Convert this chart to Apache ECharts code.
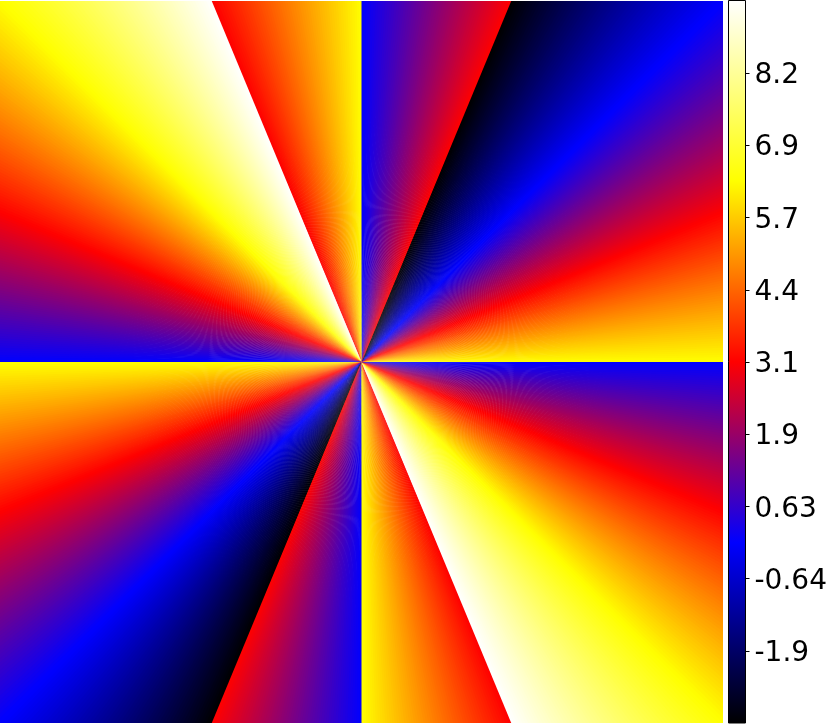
<!DOCTYPE html>
<html>
<head>
<meta charset="utf-8">
<style>html,body{margin:0;padding:0;background:#fff}#c{width:827px;height:724px}</style>
<script src="https://cdn.jsdelivr.net/npm/echarts@6/dist/echarts.min.js"></script>
</head>
<body>
<div id="c"></div>
<script>
// Phase values per 0.375 degree sector. The picture is made of
// repeated colour ramps, so each ramp is listed once and the wedges name the ramps they use.
const sectorStepDeg = 0.375;
const rampWhiteToYellow = [
 9.399,9.346,9.294,9.242,9.189,9.137,9.084,9.032,8.980,8.927,
 8.875,8.823,8.770,8.718,8.666,8.613,8.561,8.508,8.456,8.404,
 8.351,8.299,8.247,8.194,8.142,8.090,8.037,7.985,7.933,7.880,
 7.828,7.775,7.723,7.671,7.618,7.566,7.514,7.461,7.409,7.357,
 7.304,7.252,7.199,7.147,7.095,7.042,6.990,6.938,6.885,6.833,
 6.781,6.728,6.676,6.624,6.571,6.519,6.466,6.414,6.362,6.309
];
const rampYellowToRed = [
 6.257,6.205,6.152,6.100,6.048,5.995,5.943,5.890,5.838,5.786,
 5.733,5.681,5.629,5.576,5.524,5.472,5.419,5.367,5.314,5.262,
 5.210,5.157,5.105,5.053,5.000,4.948,4.896,4.843,4.791,4.738,
 4.686,4.634,4.581,4.529,4.477,4.424,4.372,4.320,4.267,4.215,
 4.163,4.110,4.058,4.005,3.953,3.901,3.848,3.796,3.744,3.691,
 3.639,3.587,3.534,3.482,3.429,3.377,3.325,3.272,3.220,3.168
];
const rampRedToBlue = [
 3.115,3.063,3.011,2.958,2.906,2.854,2.801,2.749,2.697,2.644,
 2.592,2.539,2.487,2.435,2.382,2.330,2.278,2.225,2.173,2.121,
 2.068,2.016,1.963,1.911,1.859,1.806,1.754,1.702,1.649,1.597,
 1.545,1.492,1.440,1.388,1.335,1.283,1.230,1.178,1.126,1.073,
 1.021,0.969,0.916,0.864,0.812,0.759,0.707,0.654,0.602,0.550,
 0.497,0.445,0.393,0.340,0.288,0.236,0.183,0.131,0.079,0.026
];
const rampBlueToBlack = [
 -0.026,-0.079,-0.131,-0.183,-0.236,-0.288,-0.340,-0.393,-0.445,-0.497,
 -0.550,-0.602,-0.654,-0.707,-0.759,-0.812,-0.864,-0.916,-0.969,-1.021,
 -1.073,-1.126,-1.178,-1.230,-1.283,-1.335,-1.388,-1.440,-1.492,-1.545,
 -1.597,-1.649,-1.702,-1.754,-1.806,-1.859,-1.911,-1.963,-2.016,-2.068,
 -2.121,-2.173,-2.225,-2.278,-2.330,-2.382,-2.435,-2.487,-2.539,-2.592,
 -2.644,-2.697,-2.749,-2.801,-2.854,-2.906,-2.958,-3.011,-3.063,-3.115
];
// Counter-clockwise from the +x axis over the upper half plane (the lower half repeats it):
const wedge0to67 = [...rampYellowToRed, ...rampRedToBlue, ...rampBlueToBlack];
const wedge67to90 = rampRedToBlue;
const wedge90to112 = rampYellowToRed;
const wedge112to180 = [...rampWhiteToYellow, ...rampYellowToRed, ...rampRedToBlue];
const sectorValues = [...wedge0to67, ...wedge67to90, ...wedge90to112, ...wedge112to180];

const colorStops = ['#000000','#0000ff','#ff0000','#ffff00','#ffffff'];
const scaleMin = -3.1416;
const scaleMax = 9.4248;
const tickValues = [-1.885,-0.628,0.628,1.885,3.142,4.398,5.655,6.912,8.168];
const tickLabels = ['-1.9','-0.64','0.63','1.9','3.1','4.4','5.7','6.9','8.2'];

const sectors = [];
[0, 180].forEach(function (offset) {
  sectorValues.forEach(function (v, i) {
    sectors.push([offset + i * sectorStepDeg, offset + (i + 1) * sectorStepDeg, v]);
  });
});

const REACH = 1.6;
const UNDERLAP_DEG = 0.2; // each sector runs under the next one, so no seams show between them
function renderSector(params, api) {
  const isLast = params.dataIndex === sectors.length - 1;
  const a0 = api.value(0) * Math.PI / 180;
  const a1 = (api.value(1) + (isLast ? 0 : UNDERLAP_DEG)) * Math.PI / 180;
  return {
    type: 'polygon',
    shape: { points: [
      api.coord([0, 0]),
      api.coord([REACH * Math.cos(a0), REACH * Math.sin(a0)]),
      api.coord([REACH * Math.cos(a1), REACH * Math.sin(a1)])
    ] },
    style: { fill: api.visual('color'), stroke: null }
  };
}
function renderColorbar(params, api) {
  const p0 = api.coord([0, scaleMax]), p1 = api.coord([1, scaleMin]);
  const stops = colorStops.map(function (c, i) {
    return { offset: 1 - i / (colorStops.length - 1), color: c };
  });
  return {
    type: 'rect',
    shape: { x: p0[0], y: p0[1], width: p1[0] - p0[0], height: p1[1] - p0[1] },
    style: {
      fill: new echarts.graphic.LinearGradient(0, 0, 0, 1, stops),
      stroke: '#000', lineWidth: 1
    }
  };
}
function renderTick(params, api) {
  const p = api.coord([1, api.value(1)]);
  const y = Math.round(p[1]) + 0.5;
  return {
    type: 'line',
    shape: { x1: p[0], y1: y, x2: p[0] + 4, y2: y },
    style: { stroke: '#000', lineWidth: 1 }
  };
}

const chart = echarts.init(document.getElementById('c'), null, { renderer: 'canvas' });
chart.setOption({
  animation: false,
  backgroundColor: '#fff',
  tooltip: { show: false },
  grid: [
    { left: 0, top: 1, width: 723, height: 722, show: false, outerBoundsMode: 'none' },
    { left: 728.5, top: 0.5, width: 17, height: 722.5, show: false, outerBoundsMode: 'none' }
  ],
  xAxis: [
    { gridIndex: 0, type: 'value', min: -1, max: 1, show: false },
    { gridIndex: 1, type: 'value', min: 0, max: 1, show: false }
  ],
  yAxis: [
    { gridIndex: 0, type: 'value', min: -1, max: 1, show: false },
    {
      gridIndex: 1, type: 'value', min: scaleMin, max: scaleMax, position: 'right',
      splitLine: { show: false },
      axisLine: { show: false },
      axisTick: { show: false },
      axisLabel: {
        show: true, margin: 9, customValues: tickValues,
        fontFamily: 'DejaVu Sans', fontSize: 28, color: '#000',
        formatter: function (v) {
          let best = 0;
          tickValues.forEach(function (t, i) { if (Math.abs(t - v) < Math.abs(tickValues[best] - v)) best = i; });
          return '{t|' + tickLabels[best] + '}';
        },
        rich: { t: { fontFamily: 'DejaVu Sans', fontSize: 28, color: '#000', padding: [6, 0, 0, 0] } }
      }
    }
  ],
  visualMap: {
    show: false, type: 'continuous', seriesIndex: 0, dimension: 2,
    min: scaleMin, max: scaleMax, inRange: { color: colorStops }
  },
  series: [
    { type: 'custom', xAxisIndex: 0, yAxisIndex: 0, coordinateSystem: 'cartesian2d', clip: true,
      silent: true, renderItem: renderSector, data: sectors },
    { type: 'custom', xAxisIndex: 1, yAxisIndex: 1, coordinateSystem: 'cartesian2d', clip: false,
      silent: true, renderItem: renderColorbar, data: [[0, scaleMin]] },
    { type: 'custom', xAxisIndex: 1, yAxisIndex: 1, coordinateSystem: 'cartesian2d', clip: false,
      silent: true, renderItem: renderTick, data: tickValues.map(function (t) { return [1, t]; }) }
  ]
});
</script>
</body>
</html>
